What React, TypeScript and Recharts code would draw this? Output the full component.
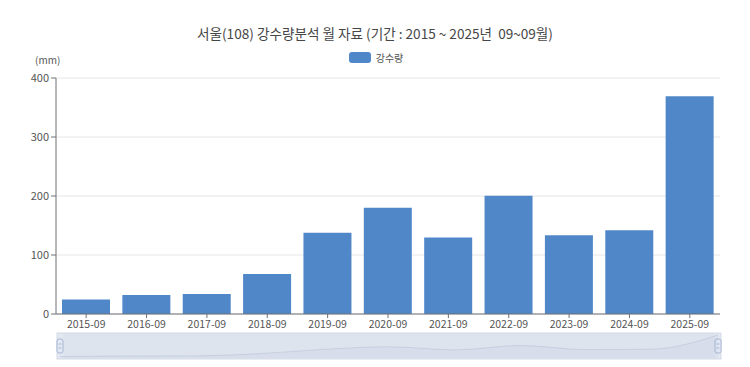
import React from 'react';
import { BarChart, Bar, XAxis, YAxis, CartesianGrid, Brush, AreaChart, Area } from 'recharts';

const months = ['2015-09', '2016-09', '2017-09', '2018-09', '2019-09', '2020-09', '2021-09', '2022-09', '2023-09', '2024-09', '2025-09'];
const rainfall = [24.7, 32.2, 33.9, 67.8, 137.9, 180.2, 129.5, 200.3, 133.5, 142.0, 369.0];
const yTicks = [0, 100, 200, 300, 400];

const data = months.map((m, i) => ({ month: m, rain: rainfall[i] }));

const FONT = '"Noto Sans CJK KR", "Noto Sans", sans-serif';
const BAR_COLOR = '#5087c8';

const Handle = (props: any) => {
  const { x, y, width, height } = props;
  const hy = y + height / 2 - 7;
  return (
    <g>
      <rect x={x} y={hy} width={width} height={14} rx={2} fill="#e3e9f4" stroke="#a7b7d3" strokeWidth={1} />
      <line x1={x + 1.5} x2={x + width - 1.5} y1={hy + 5} y2={hy + 5} stroke="#a7b7d3" />
      <line x1={x + 1.5} x2={x + width - 1.5} y1={hy + 9} y2={hy + 9} stroke="#a7b7d3" />
    </g>
  );
};

const App: React.FC = () => {
  return (
    <div style={{ position: 'absolute', left: 0, top: 0, width: 750, height: 367, background: '#fff', fontFamily: FONT }}>
      <div style={{ position: 'absolute', top: 23, left: 0, width: 750, textAlign: 'center', fontSize: 13.6, color: '#464646' }}>
        서울(108) 강수량분석 월 자료 (기간 : 2015 ~ 2025년&nbsp;&nbsp;09~09월)
      </div>
      <div style={{ position: 'absolute', top: 50, left: 0, width: 750, display: 'flex', justifyContent: 'center', alignItems: 'center', fontSize: 10, color: '#555' }}>
        <span style={{ display: 'inline-block', width: 22, height: 11, borderRadius: 3, background: BAR_COLOR, marginRight: 5, marginLeft: 2 }} />
        <span>강수량</span>
      </div>
      <div style={{ position: 'absolute', top: 52, left: 35, fontSize: 10, color: '#555' }}>(mm)</div>
      <BarChart width={750} height={367} data={data} margin={{ top: 78, right: 30, left: 0, bottom: 8 }}>
        <CartesianGrid vertical={false} stroke="#e6e6e6" />
        <XAxis
          dataKey="month"
          height={19}
          tick={{ fontSize: 10.5, fill: '#555', fontFamily: FONT }}
          tickSize={4}
          tickMargin={3}
          axisLine={{ stroke: '#6e7079' }}
          tickLine={{ stroke: '#6e7079' }}
          interval={0}
        />
        <YAxis
          width={56}
          domain={[0, 400]}
          ticks={yTicks}
          tick={{ fontSize: 11, fill: '#555', fontFamily: FONT }}
          tickSize={5}
          tickMargin={2}
          axisLine={{ stroke: '#6e7079' }}
          tickLine={{ stroke: '#6e7079' }}
        />
        <Bar dataKey="rain" fill={BAR_COLOR} barSize={48} isAnimationActive={false} />
        <Brush
          dataKey="month"
          x={57}
          y={333}
          width={664}
          height={26}
          fill="#e2e7f0"
          stroke="#d3dae6"
          travellerWidth={6}
          traveller={(p: any) => <Handle {...p} />}
        />
      </BarChart>
      {/* data shadow inside the slider */}
      <div style={{ position: 'absolute', left: 60, top: 334, pointerEvents: 'none' }}>
        <AreaChart width={658} height={24} data={data} margin={{ top: 1, right: 0, bottom: 0, left: 0 }}>
          <YAxis hide domain={[0, 'dataMax']} />
          <XAxis hide dataKey="month" />
          <Area
            dataKey="rain"
            type="monotone"
            stroke="rgba(110,130,170,0.18)"
            fill="rgba(110,130,170,0.10)"
            isAnimationActive={false}
          />
        </AreaChart>
      </div>
    </div>
  );
};

export default App;
